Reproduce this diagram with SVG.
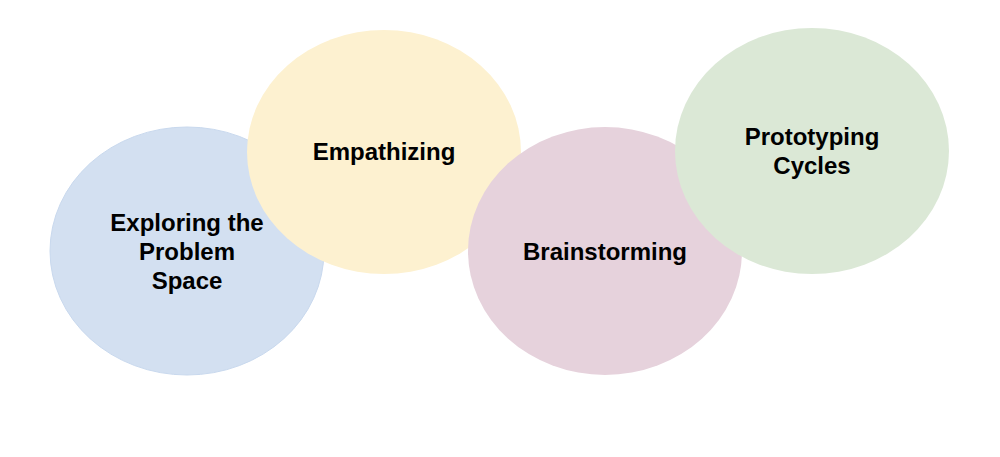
<svg xmlns="http://www.w3.org/2000/svg" width="1000" height="457" viewBox="0 0 1000 457">
<style>
.lbl{font-family:"Liberation Sans",Arial,sans-serif;font-weight:bold;font-size:24px;fill:#000;text-anchor:middle}
.e{stroke-width:1}
</style>
<rect width="1000" height="457" fill="#fff"/>
<g id="node-explore">
<ellipse cx="187" cy="251" rx="137" ry="124" fill="#d3e0f1" stroke="#c9d9ee"/>
<text class="lbl" x="187" y="231">Exploring the</text>
<text class="lbl" x="187" y="260">Problem</text>
<text class="lbl" x="187" y="289">Space</text>
</g>
<g id="node-empathize">
<ellipse cx="384" cy="152" rx="137" ry="122" fill="#fdf1d0"/>
<text class="lbl" x="384" y="160">Empathizing</text>
</g>
<g id="node-brainstorm">
<ellipse cx="605" cy="251" rx="137" ry="124" fill="#e6d2dc"/>
<text class="lbl" x="605" y="260">Brainstorming</text>
</g>
<g id="node-prototype">
<ellipse cx="812" cy="151" rx="137" ry="123" fill="#dbe8d6"/>
<text class="lbl" x="812" y="145">Prototyping</text>
<text class="lbl" x="812" y="174">Cycles</text>
</g>
<g id="connectors"></g>
</svg>
